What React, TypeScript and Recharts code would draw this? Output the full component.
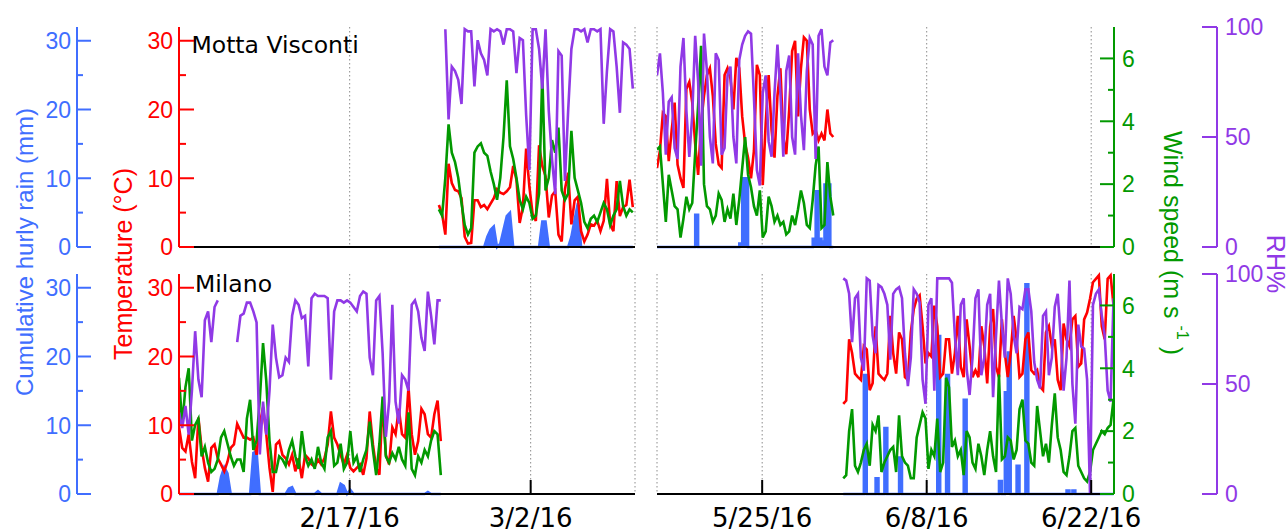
import React from 'react';
import { ComposedChart, Line, Area, XAxis, YAxis, CartesianGrid, ReferenceLine } from 'recharts';

// colours of the original plot
const RED = '#ff0000';
const BLUE = '#406eff';
const GREEN = '#029900';
const PURPLE = '#9039e6';
const SANS = '"Liberation Sans", Arial, sans-serif';
const DEJA = '"DejaVu Sans", Verdana, sans-serif';

// x is day of year 2016, samples every 6 hours
const STEP = 0.25;

const winterDomain = [34.8, 70.07];
const springDomain = [137.05, 175.94];
const winterTicks = [48, 62];
const winterTickLabels = ['2/17/16', '3/2/16'];
const springTicks = [146, 160, 174];
const springTickLabels = ['5/25/16', '6/8/16', '6/22/16'];

const tempTicks = [0, 5, 10, 15, 20, 25, 30];
const tempMajor = [0, 10, 20, 30];
const windTicks = [0, 1, 2, 3, 4, 5, 6];
const windMajor = [0, 2, 4, 6];
const rhTicks = [0, 50, 100];

// Motta Visconti, winter (from day 54.9)
const mottaWinterStart = 54.9;
const mottaWinterT = [6.1,4.8,1.8,12.1,9.3,8.3,8.1,7.1,1.5,0.5, 0.6,6.8,6.8,5.8,6.1,5.5,6.3,7.1,8.4,7.9,
  7.7,8.1,8.7,11.8,9.8,3.5,5.8,14.3,8.8,4.8, 3.8,14.8,11.8,10.3,4.3,7.5,8.1,1.8,0.8,8.4,
  10.8,3.3,6.8,7.3,2.3,0.8,1.8,3.3,3.1,3.8, 2.3,3.8,9.9,3.3,2.3,9.6,4.5,5.8,6.1,9.8, 5.8];
const mottaWinterW = [1.2,1.0,2.2,3.9,3.0,2.7,2.2,1.4,0.7,0.4, 0.6,3.0,3.2,3.3,3.0,2.9,2.4,2.0,1.5,2.2,
  3.5,5.3,3.2,2.8,2.2,1.5,1.2,1.6,1.4,0.9, 1.0,1.7,5.5,1.8,2.2,3.4,3.0,3.8,1.8,1.5,
  1.7,3.7,2.2,1.8,1.4,0.8,0.6,0.9,1.0,0.8, 1.1,1.4,1.2,0.7,1.0,1.2,2.1,1.3,1.0,1.2, 1.1];
const mottaWinterRH = [null,null,99,58,82,80,76,65,99,98, 98,73,94,88,85,78,99,98,99,98,
  92,99,99,98,79,95,94,60,35,99, 99,90,72,99,62,40,24,89,87,30,
  62,90,99,99,98,99,93,99,99,98, 99,56,80,99,98,82,61,93,92,90, 72];
const mottaWinterRain = [0,0,0,0,0,0,0,0,0,0, 0,0,0,0,0,1.5,2.5,3.0,0,0.5,
  2.5,4.5,5.0,0,0,0,0,0,0,0, 0,0,3.7,3.7,0,0,0,0,0,0,
  0,1.5,4.0,6.4,0,0,0,0,0,0, 0,0,0,0,0,0,0,0,0,0, 0];

// Motta Visconti, spring (from day 137.05)
const mottaSpringStart = 137.05;
const mottaSpringT = [11.5,14,19.5,19,12.5,17,21,12,10,8.6, 23,24,21,15,10.5,18,22,25,26,22,
  15,12,11.5,25,26,24.5,20,27.5,26,19, 15,13,10,14,26.5,25,9,18,25,17,
  13,22,26,16,13.5,20,28.5,30,19,26, 30.5,30,20,16.5,17,15.5,16.5,15.5,20,16.5, 16];
const mottaSpringW = [3.1,3.2,2.0,0.8,2.3,1.8,1.3,1.2,0.3,0.9, 1.6,1.2,1.4,3.0,4.5,6.4,2.0,1.3,1.2,0.8,
  1.0,1.7,1.5,0.8,1.2,0.9,1.7,0.7,1.5,2.5, 3.5,2.3,1.9,1.3,1.0,1.8,0.3,0.5,1.6,1.3,
  0.8,1.0,0.7,0.8,0.4,0.5,1.0,0.7,1.2,1.8, 1.4,0.7,0.6,1.5,2.6,3.2,0.6,0.7,2.7,1.6, 1.0];
const mottaSpringRH = [78,88,70,42,66,68,45,40,82,95, 62,41,60,96,75,37,97,80,50,38,
  88,85,42,45,78,82,50,38,85,92, 96,98,97,68,35,28,70,78,48,41,
  70,92,70,41,80,87,50,42,88,60, 44,80,95,92,40,96,99,82,78,93, 94];
const mottaSpringRain = [0,0,0,0,0,0,0,0,0,0, 0,0,0,4.7,0,0,0,0,0,0,
  0,0,0,0,0,0,0,0,0.5,10, 10,0,0,0,0,0,0,0,0,0,
  0,0,0,0,0,0,0,0,0,0, 0,0,0,1.2,8.1,1.2,0.8,9.1,9.1,0, 0];

// Milano, winter (from day 34.8)
const milanoWinterStart = 34.8;
const milanoWinterT = [9.7,6.7,6.2,8.7,4.7,2.3,11.1,6.7,3.8,1.8, 6.7,7.2,5.2,4.3,3.3,4.7,6.7,7.2,10.2,9.2,
  8.2,8.2,7.9,8.2,5.7,10.2,12.6,8.7,3.8,0.3, 7.2,7.7,5.7,5.2,4.3,5.7,3.3,5.2,2.3,5.7,
  5.2,4.3,4.0,5.0,4.3,5.2,7.2,12.0,8.2,7.2, 5.7,4.3,5.7,3.8,3.3,3.8,4.3,2.8,5.2,12.0,
  7.2,3.8,2.8,13.6,5.7,4.3,9.7,8.7,12.4,8.7, 8.2,15.6,8.7,5.7,7.7,12.4,11.6,8.7,8.2,11.6, 13.6,7.7];
const milanoWinterW = [3.7,2.2,3.4,4.0,1.7,2.2,2.4,1.2,1.5,1.0, 0.7,0.8,1.1,1.8,2.0,1.6,1.2,0.9,1.1,1.1,
  0.7,2.4,3.0,1.4,1.7,3.0,4.8,3.6,1.7,0.7, 0.7,1.2,1.1,0.9,1.4,1.7,1.2,0.8,2.0,1.2,
  0.9,1.1,0.8,1.5,1.0,0.8,1.8,2.0,0.9,1.0, 1.6,0.8,1.0,2.0,1.0,1.2,0.7,1.1,1.4,2.3,
  1.4,0.6,1.6,3.1,1.2,1.0,1.3,1.1,1.5,1.1, 0.9,2.6,0.8,0.6,1.2,1.0,1.4,1.2,1.7,2.0, 1.9,0.6];
const milanoWinterRH = [37,30,40,27,47,74,52,44,79,83, 69,85,88,null,null,null,null,null,69,81,
  82,87,87,83,78,18,42,27,47,77, 62,53,54,62,60,81,88,86,80,81,
  58,89,91,90,90,90,89,52,83,88, 88,87,88,87,85,83,90,92,91,62,
  54,88,90,64,26,42,86,42,32,54, 52,47,86,88,83,71,65,92,81,68, 88,88];
const milanoWinterRain = [0,0,0,0,0,0,0,0,0,0, 0,0,0,2.5,3.9,3.0,0,0,0,0,
  0,0,0,6.0,6.2,0,0,0,0,0, 0,0,0,0,0.8,1.0,0,0,0,0,
  0,0,0,0.4,0,0,0,0,0,0, 1.5,1.2,0,0.6,0,0,0,0,0,0,
  0,0,0,0,0,0,0,0,0,0, 0,0,0,0,0,0,0,0.3,0,0, 0,0];

// Milano, summer (from day 152.9)
const milanoSummerStart = 152.9;
const milanoSummerT = [13.1,13.6,22.5,20.5,17.5,17,16.6,21.5,21,15.1, 16.1,24.4,17.5,17,16.6,17.5,25.9,20.5,17.5,23.5,
  22.5,17,16.6,23.5,26.9,28.4,28.9,24.4,19,20.5, 20,27.4,24.4,17,17.5,22.5,22.5,17.5,20.5,25.9,
  18.5,17,25.4,21.5,17,18,17,24.4,21.5,16.1, 24.4,26.9,18.5,17,25.4,20.5,17,20.5,25.9,22.5,
  17,17.5,22.5,23.5,18,17.5,18,15.6,15.1,23.5, 24.4,21.5,22.5,16.6,15.1,24.8,22.5,21.5,25.4,25.9,
  18.5,19,25.4,26.4,28.4,30.8,31.3,31.8,24.4,22.5, 31.3,31.8,27.4];
const milanoSummerW = [0.5,0.6,2.0,2.7,0.9,0.7,1.0,1.4,1.6,0.9, 2.2,2.0,2.5,0.7,1.0,1.2,1.4,1.5,0.7,2.5,
  1.2,1.0,0.9,0.5,0.5,1.8,2.2,2.6,2.4,0.8, 1.4,1.2,2.4,0.7,1.0,3.7,3.4,1.5,1.7,1.2,
  1.4,0.6,2.0,1.8,1.0,0.8,1.6,1.2,0.6,1.4, 2.0,1.2,0.7,3.8,1.1,1.2,1.8,1.7,1.1,1.4,
  2.7,3.0,1.7,1.6,1.0,0.9,2.8,2.0,1.2,1.6, 1.0,2.2,3.2,1.8,1.4,0.7,0.6,1.2,2.0,2.1,
  0.9,0.7,0.5,0.4,0.7,1.4,1.6,1.8,2.0,1.9, 2.1,2.2,3.0];
const milanoSummerRH = [98,97,91,69,89,91,62,56,98,97, 72,64,95,94,91,86,61,91,93,94,
  89,64,49,62,93,91,87,52,41,86, 89,47,98,98,98,98,98,96,72,54,
  86,89,57,45,62,89,93,54,62,86, 91,44,72,97,77,62,98,91,72,64,
  85,84,93,93,83,60,52,48,81,83, 54,62,85,91,72,47,62,97,50,32,
  77,67,66,52,0,86,91,93,81,72, 47,42,89];
const milanoSummerRain = [0,0,0,0,0,0,0,17.3,0,0, 0,2.3,0,0,9.6,0,0,0,0,5.3,
  0,0,0,0,0,0,0,0,0,0, 0,0,23.0,0,0,17.3,0,0,0,0,
  0,13.7,0,0,0,0,0,0,0,0, 0,0,0,1.9,0,14.8,20.6,0,0,4.1,
  0,0,30.5,0,0,0,0,0,0,0, 0,0,0,0,0,0,0.5,0,0.5,0,
  0,0,0,0,0,0,0,0,0,0, 0,0,0];

const rows = (start: number, t: number[], w: number[], h: (number | null)[], r: number[]) =>
  t.map((v, i) => ({ d: start + i * STEP, t: v, w: w[i], h: h[i], r: r[i] }));

const yTick = (side: 'left' | 'right', color: string, major: number[], majorLen: number, minorLen: number) =>
  (p: any) => {
    const v = p.payload.value;
    const isMajor = major.includes(v);
    const dir = side === 'left' ? 1 : -1;
    return (
      <g>
        <line x1={p.x} y1={p.y} x2={p.x + dir * (isMajor ? majorLen : minorLen)} y2={p.y} stroke={color} strokeWidth={2} />
        {isMajor && (
          <text x={p.x - dir * (side === 'left' ? 6 : 8)} y={p.y} dy="0.36em" textAnchor={side === 'left' ? 'end' : 'start'}
            fill={color} fontSize={23} fontFamily={SANS}>{v}</text>
        )}
      </g>
    );
  };

const xTick = (row: 'top' | 'bottom', ticks: number[], labels: string[]) => (p: any) => {
  if (row === 'top') {
    return <line x1={p.x} y1={p.y} x2={p.x} y2={p.y + 15} stroke="#000" strokeWidth={2} />;
  }
  const label = labels[ticks.indexOf(p.payload.value)];
  return (
    <g>
      <line x1={p.x} y1={p.y} x2={p.x} y2={p.y - 14} stroke="#000" strokeWidth={2} />
      <text x={p.x} y={p.y + 32.5} textAnchor="middle" fill="#000" fontSize={26} fontFamily={DEJA}>{label}</text>
    </g>
  );
};

type PanelProps = {
  left: number; top: number; width: number; height: number;
  margin: { top: number; right: number; bottom: number; left: number };
  data: any[]; domain: number[]; ticks: number[]; labels: string[];
  side: 'left' | 'right'; row: 'top' | 'bottom'; rainType: 'linear' | 'stepAfter';
};

// axis ids: recharts puts same-side axes in id order, first one next to the plot
// a = temperature, b = rain (left), c = wind, d = RH (right)
function Panel({ left, top, width, height, margin, data, domain, ticks, labels, side, row, rainType }: PanelProps) {
  const isLeft = side === 'left';
  return (
    <div style={{ position: 'absolute', left, top, width, height }}>
      <ComposedChart width={width} height={height} data={data} margin={margin}>
        <CartesianGrid yAxisId="a" horizontal={false} stroke="#8c8c8c" strokeDasharray="1.5 2.5" />
        <XAxis dataKey="d" type="number" domain={domain} ticks={ticks} interval={0} allowDataOverflow
          orientation={row} height={row === 'top' ? 0 : 35}
          axisLine={{ stroke: '#000', strokeWidth: 2 }} tickLine={false} tickSize={0} tickMargin={0}
          tick={xTick(row, ticks, labels)} />
        <YAxis yAxisId="a" orientation="left" width={102} hide={!isLeft} domain={[0, 32]} ticks={tempTicks} interval={0}
          axisLine={{ stroke: RED, strokeWidth: 2 }} tickLine={false} tickSize={0} tickMargin={0}
          tick={yTick('left', RED, tempMajor, 15, 7)} />
        <YAxis yAxisId="b" orientation="left" width={77} hide={!isLeft} domain={[0, 32]} ticks={tempTicks} interval={0}
          axisLine={{ stroke: BLUE, strokeWidth: 2 }} tickLine={false} tickSize={0} tickMargin={0}
          tick={yTick('left', BLUE, tempMajor, 14, 6)} />
        <YAxis yAxisId="c" orientation="right" width={103} hide={isLeft} domain={[0, 7]} ticks={windTicks} interval={0}
          axisLine={{ stroke: GREEN, strokeWidth: 2 }} tickLine={false} tickSize={0} tickMargin={0}
          tick={yTick('right', GREEN, windMajor, 14, 6)} />
        <YAxis yAxisId="d" orientation="right" width={70} hide={isLeft} domain={[0, 100]} ticks={rhTicks} interval={0}
          axisLine={{ stroke: PURPLE, strokeWidth: 2 }} tickLine={false} tickSize={0} tickMargin={0}
          tick={yTick('right', PURPLE, rhTicks, 15, 15)} />
        {row === 'top' && <ReferenceLine yAxisId="a" y={0} stroke="#000" strokeWidth={2} />}
        <Line yAxisId="a" dataKey="t" type="linear" stroke={RED} strokeWidth={2.6} dot={false} isAnimationActive={false} />
        <Line yAxisId="c" dataKey="w" type="linear" stroke={GREEN} strokeWidth={2.6} dot={false} isAnimationActive={false} />
        <Line yAxisId="d" dataKey="h" type="linear" stroke={PURPLE} strokeWidth={2.6} dot={false} isAnimationActive={false} />
        <Area yAxisId="b" dataKey="r" type={rainType} stroke={BLUE} strokeWidth={2.5} fill={BLUE} fillOpacity={1}
          baseValue={0} dot={false} activeDot={false} isAnimationActive={false} />
      </ComposedChart>
    </div>
  );
}

export default function App() {
  const topM = { top: 27, right: 0, bottom: 10, left: 0 };
  const botM = { top: 11, right: 0, bottom: 0, left: 0 };
  return (
    <div style={{ position: 'absolute', left: 0, top: 0, width: 1287, height: 529, background: '#fff', overflow: 'hidden' }}>
      <Panel left={0} top={0} width={645} height={257} margin={{ ...topM, right: 10 }}
        data={rows(mottaWinterStart, mottaWinterT, mottaWinterW, mottaWinterRH, mottaWinterRain)}
        domain={winterDomain} ticks={winterTicks} labels={winterTickLabels} side="left" row="top" rainType="linear" />
      <Panel left={647} top={0} width={640} height={257} margin={{ ...topM, left: 10 }}
        data={rows(mottaSpringStart, mottaSpringT, mottaSpringW, mottaSpringRH, mottaSpringRain)}
        domain={springDomain} ticks={springTicks} labels={springTickLabels} side="right" row="top" rainType="stepAfter" />
      <Panel left={0} top={263} width={645} height={266} margin={{ ...botM, right: 10 }}
        data={rows(milanoWinterStart, milanoWinterT, milanoWinterW, milanoWinterRH, milanoWinterRain)}
        domain={winterDomain} ticks={winterTicks} labels={winterTickLabels} side="left" row="bottom" rainType="linear" />
      <Panel left={647} top={263} width={640} height={266} margin={{ ...botM, left: 10 }}
        data={rows(milanoSummerStart, milanoSummerT, milanoSummerW, milanoSummerRH, milanoSummerRain)}
        domain={springDomain} ticks={springTicks} labels={springTickLabels} side="right" row="bottom" rainType="stepAfter" />

      <svg width={1287} height={529} style={{ position: 'absolute', left: 0, top: 0, pointerEvents: 'none' }}>
        <text x={191.5} y={53} fontSize={23.5} fontFamily={DEJA} fill="#000">Motta Visconti</text>
        <text x={195} y={291.5} fontSize={23.5} fontFamily={DEJA} fill="#000">Milano</text>
        <text transform="translate(24,252) rotate(-90)" textAnchor="middle" dominantBaseline="central"
          fill={BLUE} fontSize={24} fontFamily={SANS}>Cumulative hurly rain (mm)</text>
        <text transform="translate(123,264) rotate(-90)" textAnchor="middle" dominantBaseline="central"
          fill={RED} fontSize={25} fontFamily={SANS}>Temperature (°C)</text>
        <text transform="translate(1173,243) rotate(90)" textAnchor="middle" dominantBaseline="central"
          fill={GREEN} fontSize={25} fontFamily={SANS}>
          Wind speed (m s <tspan dy={-10} fontSize={16}>-1</tspan><tspan dy={10}> )</tspan>
        </text>
        <text transform="translate(1276,264) rotate(90)" textAnchor="middle" dominantBaseline="central"
          fill={PURPLE} fontSize={25} fontFamily={SANS}>RH%</text>
      </svg>
    </div>
  );
}
